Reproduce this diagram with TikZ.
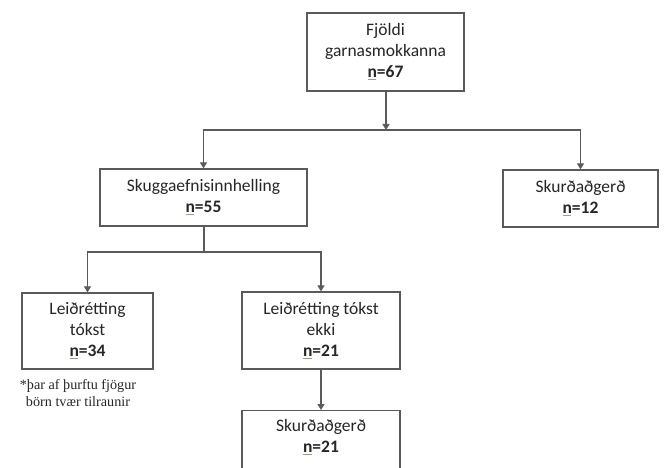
\documentclass[tikz,border=0pt]{standalone}
\usepackage{fontspec}
\setmainfont{Carlito}
\newfontfamily\notefont{Liberation Serif}
\usetikzlibrary{arrows.meta}
\definecolor{boxline}{HTML}{5A5A5A}
\definecolor{txt}{HTML}{262626}
\definecolor{squig}{HTML}{7FB36A}
\newcommand{\nval}[1]{\textbf{\rlap{\textcolor{squig}{\rule[-2.4pt]{0.5em}{0.9pt}}}n=#1}}
\tikzset{
  x=1pt, y=-1pt,
  box/.style={draw=boxline, line width=1.3pt, fill=white, align=center, text=txt,
    font=\fontsize{17.5}{21}\selectfont, inner sep=0pt},
  conn/.style={draw=boxline, line width=1.3pt},
  arr/.style={conn, -{Triangle[width=7pt,length=6pt]}}
}
\begin{document}
\begin{tikzpicture}
\useasboundingbox (0,0) rectangle (665,468);
\clip (0,0) rectangle (665,468);
\node[box, minimum width=157pt, minimum height=78pt] (top) at (385.5,52) {Fjöldi\\garnasmokkanna\\\nval{67}};
\node[box, minimum width=207pt, minimum height=57pt] (skugg) at (203.5,197.5) {Skuggaefnisinnhelling\\\nval{55}};
\node[box, minimum width=155pt, minimum height=57pt] (right) at (580.5,198.5) {Skurðaðgerð\\\nval{12}};
\node[box, minimum width=131pt, minimum height=76pt] (left) at (87.5,331) {Leiðrétting\\tókst\\\nval{34}};
\node[box, minimum width=158pt, minimum height=77pt] (mid) at (321,330.5) {Leiðrétting tókst\\ekki\\\nval{21}};
\node[box, minimum width=158pt, minimum height=80pt, anchor=north] (bot) at (321,410) {};
\node[align=center, text=txt, font=\fontsize{17.5}{21}\selectfont, inner sep=0pt] (botlabel) at (321,437) {Skurðaðgerð\\\nval{21}};
\node[align=center, text=txt, font=\notefont\fontsize{14.2}{16.5}\selectfont, inner sep=0pt] (note) at (78,393) {*þar af þurftu fjögur\\börn tvær tilraunir};
\coordinate (j1) at (386,130);
\coordinate (j2) at (204,252);
\draw[arr] (top.south -| j1) -- (j1);
\draw[arr] (j1) -| (skugg.north);
\draw[arr] (j1) -| (right.north);
\draw[conn] (skugg.south -| j2) -- (j2);
\draw[arr] (j2) -| (left.north);
\draw[arr] (j2) -| (mid.north);
\draw[arr] (mid.south) -- (bot.north);
\end{tikzpicture}
\end{document}
